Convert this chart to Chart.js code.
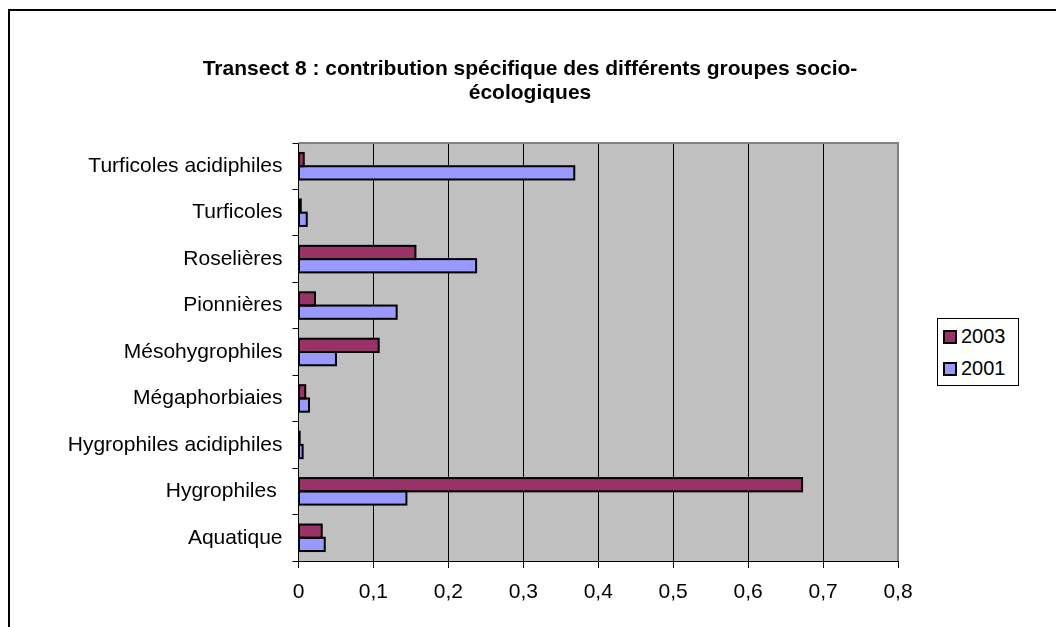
<!DOCTYPE html>
<html>
<head>
<meta charset="utf-8">
<script src="https://cdn.jsdelivr.net/npm/chart.js@4.4.1/dist/chart.umd.min.js"></script>
<style>
  body { margin: 0; background: #fff; font-family: Arial, 'Liberation Sans', sans-serif; }
  #wrap { position: relative; width: 1056px; height: 627px; overflow: hidden; }
  #frame { position: absolute; left: 8px; top: 9px; width: 1200px; height: 800px; border-left: 2px solid #000; border-top: 2px solid #000; }
  #chart { position: absolute; left: 0; top: 0; }
  #title { position: absolute; left: 130px; width: 800px; top: 56px; text-align: center; font-weight: bold; font-size: 21px; line-height: 24px; color: #000; }
  #legend { position: absolute; left: 937px; top: 318px; width: 80px; height: 66px; border: 1px solid #000; background: #fff; }
  .item { position: absolute; left: 5px; height: 24px; font-size: 20px; line-height: 24px; color: #000; }
  .item span.sw { display: inline-block; width: 10px; height: 10px; border: 2px solid #000; vertical-align: -1px; margin-right: 4px; }
</style>
</head>
<body>
<div id="wrap">
  <div id="frame"></div>
  <canvas id="chart" width="1056" height="627"></canvas>
  <div id="title">Transect 8 : contribution spécifique des différents groupes socio-<br>écologiques</div>
  <div id="legend"></div>
</div>
<script>
const categories = ['Turficoles acidiphiles', 'Turficoles', 'Roselières', 'Pionnières', 'Mésohygrophiles',
  'Mégaphorbiaies', 'Hygrophiles acidiphiles', 'Hygrophiles ', 'Aquatique']
const values2003 = [0.007, 0.003, 0.156, 0.022, 0.107, 0.009, 0.0015, 0.672, 0.031]
const values2001 = [0.368, 0.011, 0.237, 0.131, 0.050, 0.014, 0.0055, 0.144, 0.035]
const xTickLabels = ['0', '0,1', '0,2', '0,3', '0,4', '0,5', '0,6', '0,7', '0,8']

// grey plot area, grey top/right frame, and Excel-style bar outlines centred on the bar edges
const plotBg = {
  id: 'plotBg',
  beforeDraw(chart) {
    const { ctx, chartArea: a } = chart
    ctx.save()
    ctx.fillStyle = '#C0C0C0'
    ctx.fillRect(a.left, a.top, a.right - a.left, a.bottom - a.top)
    ctx.restore()
  },
  beforeDatasetsDraw(chart) {
    const { ctx, chartArea: a } = chart
    ctx.save()
    ctx.strokeStyle = '#808080'
    ctx.lineWidth = 2
    ctx.beginPath()
    ctx.moveTo(a.left, a.top)
    ctx.lineTo(a.right, a.top)
    ctx.lineTo(a.right, a.bottom)
    ctx.stroke()
    ctx.restore()
  },
  afterDatasetsDraw(chart) {
    const ctx = chart.ctx
    ctx.save()
    ctx.strokeStyle = '#000'
    ctx.lineWidth = 2
    chart.data.datasets.forEach((ds, i) => {
      chart.getDatasetMeta(i).data.forEach((bar) => {
        const { x, y, base, height } = bar.getProps(['x', 'y', 'base', 'height'])
        ctx.strokeRect(base, y - height / 2, x - base, height)
      })
    })
    ctx.restore()
  }
}

const font = { family: "Arial, 'Liberation Sans', sans-serif", size: 21 }

const chart = new Chart(document.getElementById('chart').getContext('2d'), {
  type: 'bar',
  data: {
    labels: categories,
    datasets: [
      { label: '2003', data: values2003, backgroundColor: '#993366' },
      { label: '2001', data: values2001, backgroundColor: '#9999FF' },
    ],
  },
  options: {
    indexAxis: 'y',
    responsive: false,
    animation: false,
    devicePixelRatio: 1,
    layout: { padding: { left: 10, right: 158, top: 143, bottom: 6 } },
    datasets: {
      bar: {
        categoryPercentage: 0.571,
        barPercentage: 1,
        borderWidth: 0,
        inflateAmount: 0,
      },
    },
    plugins: {
      legend: { display: false },
      tooltip: { enabled: false },
    },
    scales: {
      x: {
        min: 0,
        max: 0.8,
        grid: {
          color: (c) => (c.index === xTickLabels.length - 1 ? '#808080' : '#000'),
          lineWidth: 1,
          tickLength: 7,
          tickColor: '#000',
        },
        border: { color: '#000', width: 1 },
        ticks: {
          stepSize: 0.1,
          color: '#000',
          font,
          padding: 12,
          maxRotation: 0,
          callback: (v, i) => xTickLabels[i],
        },
        afterFit: (s) => { s.height = 60 },
      },
      y: {
        grid: { drawOnChartArea: false, tickLength: 6, color: '#000' },
        border: { color: '#000', width: 1 },
        ticks: { color: '#000', font, padding: 10 },
        afterFit: (s) => { s.width = 288.5 },
      },
    },
  },
  plugins: [plotBg],
})

const legend = document.getElementById('legend')
chart.data.datasets.forEach((ds, i) => {
  const item = document.createElement('div')
  item.className = 'item'
  item.style.top = (5 + i * 32) + 'px'
  item.innerHTML = '<span class="sw" style="background:' + ds.backgroundColor + '"></span>' + ds.label
  legend.appendChild(item)
})
</script>
</body>
</html>
